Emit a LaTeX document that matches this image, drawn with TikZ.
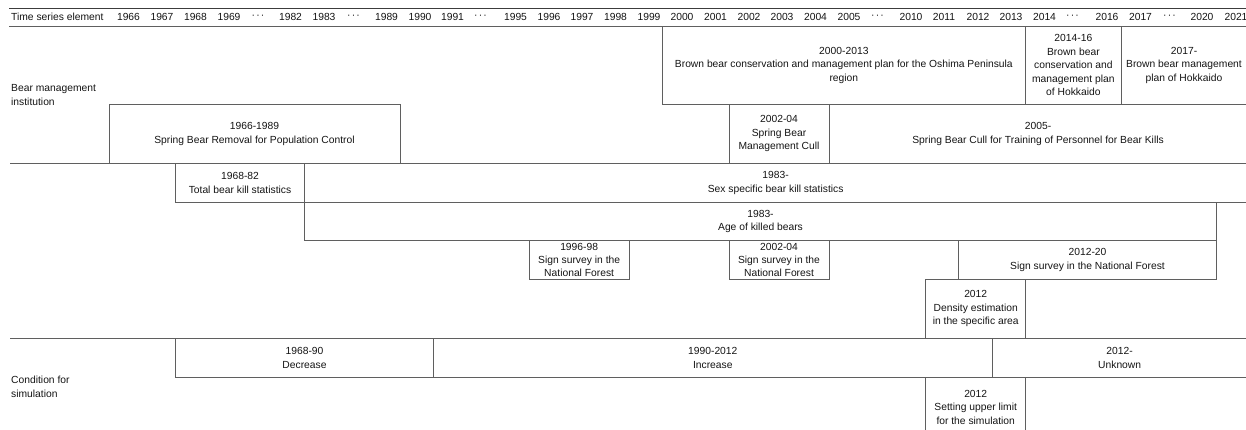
\documentclass[tikz,border=0pt]{standalone}
\usepackage{fontspec}
\setmainfont{Liberation Sans}
\definecolor{linecol}{RGB}{95,95,95}
\definecolor{topcol}{RGB}{60,60,60}
\definecolor{txtcol}{RGB}{20,20,20}
\newcommand\bxfont{\fontsize{10.3}{13.4}\selectfont}
\newcommand\dts{·\kern1.2pt·\kern1.2pt·}
\tikzset{
  bx/.style={draw=linecol, line width=0.8pt, inner sep=0pt, outer sep=0pt,
    anchor=north west, align=center, font=\bxfont, text=txtcol},
  hd/.style={inner sep=0pt, font=\bxfont, text=txtcol},
  lbl/.style={inner sep=0pt, anchor=west, align=left, font=\bxfont, text=txtcol},
  rule/.style={draw=linecol, line width=0.8pt},
  toprule/.style={draw=topcol, line width=1.3pt}
}
\begin{document}
\begin{tikzpicture}[x=1pt,y=-1pt]
\useasboundingbox (0,0) rectangle (1246,430);
% header rules
\coordinate (tl) at (9,8.3);   \coordinate (tr) at (1247,8.3);
\coordinate (bl) at (9,26);    \coordinate (br) at (1247,26);
\draw[toprule] (tl) -- (tr);
\draw[rule] (bl) -- (br);
% header labels
\node[hd, anchor=west] (tse) at (11,17.3) {Time series element};
\node[hd] (y1966) at (128.5,17.3) {1966};
\node[hd] (y1967) at (162,17.3) {1967};
\node[hd] (y1968) at (195.5,17.3) {1968};
\node[hd] (y1969) at (229,17.3) {1969};
\node[hd] (d1) at (258,17.3) {\dts};
\node[hd] (y1982) at (290.5,17.3) {1982};
\node[hd] (y1983) at (324,17.3) {1983};
\node[hd] (d2) at (353.5,17.3) {\dts};
\node[hd] (y1989) at (386.5,17.3) {1989};
\node[hd] (y1990) at (420,17.3) {1990};
\node[hd] (y1991) at (452.5,17.3) {1991};
\node[hd] (d3) at (480.5,17.3) {\dts};
\node[hd] (y1995) at (515.5,17.3) {1995};
\node[hd] (y1996) at (549,17.3) {1996};
\node[hd] (y1997) at (582,17.3) {1997};
\node[hd] (y1998) at (615.5,17.3) {1998};
\node[hd] (y1999) at (649,17.3) {1999};
\node[hd] (y2000) at (682,17.3) {2000};
\node[hd] (y2001) at (715.5,17.3) {2001};
\node[hd] (y2002) at (749,17.3) {2002};
\node[hd] (y2003) at (782,17.3) {2003};
\node[hd] (y2004) at (815.5,17.3) {2004};
\node[hd] (y2005) at (849,17.3) {2005};
\node[hd] (d4) at (877.5,17.3) {\dts};
\node[hd] (y2010) at (911,17.3) {2010};
\node[hd] (y2011) at (944,17.3) {2011};
\node[hd] (y2012) at (978,17.3) {2012};
\node[hd] (y2013) at (1011,17.3) {2013};
\node[hd] (y2014) at (1044.5,17.3) {2014};
\node[hd] (d5) at (1072.5,17.3) {\dts};
\node[hd] (y2016) at (1107,17.3) {2016};
\node[hd] (y2017) at (1140.5,17.3) {2017};
\node[hd] (d6) at (1169.5,17.3) {\dts};
\node[hd] (y2020) at (1202,17.3) {2020};
\node[hd] (y2021) at (1236,17.3) {2021};
% row labels
\node[lbl] (bmi) at (11,95) {Bear management\\institution};
\node[lbl] (cfs) at (11,387) {Condition for\\simulation};
% section separators
\coordinate (s1l) at (10,163.3); \coordinate (s1r) at (1247,163.3);
\coordinate (s2l) at (10,338.3); \coordinate (s2r) at (1247,338.3);
\draw[rule] (s1l) -- (s1r);
\draw[rule] (s2l) -- (s2r);
% institution boxes
\node[bx, minimum width=363.7pt, minimum height=78.3pt] (oshima) at (662,26)
  {2000-2013\\Brown bear conservation and management plan for the Oshima Peninsula\\region};
\node[bx, minimum width=95.3pt, minimum height=78.3pt] (hok1416) at (1025.7,26)
  {2014-16\\Brown bear\\conservation and\\management plan\\of Hokkaido};
\node[bx, minimum width=126pt, minimum height=78.3pt] (hok17) at (1121,26)
  {2017-\\Brown bear management\\plan of Hokkaido};
\node[bx, minimum width=291pt, minimum height=59pt] (removal) at (109,104.3)
  {1966-1989\\Spring Bear Removal for Population Control};
\node[bx, minimum width=100pt, minimum height=59pt] (cull) at (729,104.3)
  {2002-04\\Spring Bear\\Management Cull};
\node[bx, minimum width=418pt, minimum height=59pt] (training) at (829,104.3)
  {2005-\\Spring Bear Cull for Training of Personnel for Bear Kills};
% statistics and surveys
\node[bx, minimum width=128.6pt, minimum height=39pt] (total) at (175.7,163.3)
  {1968-82\\Total bear kill statistics};
\node[bx, minimum width=942.7pt, minimum height=39pt] (sex) at (304.3,163.3)
  {1983-\\Sex specific bear kill statistics};
\node[bx, minimum width=912.4pt, minimum height=38.4pt] (age) at (304.3,202.3)
  {1983-\\Age of killed bears};
\node[bx, minimum width=100.3pt, minimum height=38.6pt] (sign96) at (529,240.7)
  {1996-98\\Sign survey in the\\National Forest};
\node[bx, minimum width=100pt, minimum height=38.6pt] (sign02) at (729,240.7)
  {2002-04\\Sign survey in the\\National Forest};
\node[bx, minimum width=258.4pt, minimum height=38.6pt] (sign12) at (958.3,240.7)
  {2012-20\\Sign survey in the National Forest};
\node[bx, minimum width=100pt, minimum height=59pt] (density) at (925.7,279.3)
  {2012\\Density estimation\\in the specific area};
% simulation conditions
\node[bx, minimum width=257.6pt, minimum height=39pt] (decrease) at (175.7,338.3)
  {1968-90\\Decrease};
\node[bx, minimum width=559pt, minimum height=39pt] (increase) at (433.3,338.3)
  {1990-2012\\Increase};
\node[bx, minimum width=254.7pt, minimum height=39pt] (unknown) at (992.3,338.3)
  {2012-\\Unknown};
\node[bx, minimum width=100pt, minimum height=59.7pt] (upper) at (925.7,377.3)
  {2012\\Setting upper limit\\for the simulation};
\end{tikzpicture}
\end{document}
